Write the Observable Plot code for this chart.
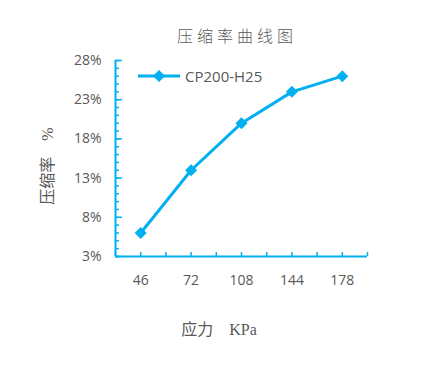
<!DOCTYPE html>
<html><head><meta charset="utf-8">
<script src="https://cdn.jsdelivr.net/npm/d3@7"></script>
<script src="https://cdn.jsdelivr.net/npm/@observablehq/plot@0.6"></script>
<style>
body{margin:0;background:#fff;}
#wrap{position:relative;width:447px;height:374px;overflow:hidden;background:#fff;}
#wrap svg{position:absolute;left:0;top:0;}
.t{position:absolute;color:#595959;white-space:nowrap;font-family:'Liberation Serif','Noto Sans CJK SC',serif;font-size:16px;line-height:1;}
</style></head><body><div id="wrap"></div>
<script>
const categories = ["46", "72", "108", "144", "178"];
const values = [6, 14, 20, 24, 26];
const yTicks = [3, 8, 13, 18, 23, 28];
const yMinorTicks = d3.range(3, 29, 1);
const seriesName = "CP200-H25";
const titleText = "压缩率曲线图";
const xTitleText = "应力 KPa";
const yTitleText = "压缩率 %";

const data = categories.map((c, i) => ({i, c, v: values[i]}));
const blue = "#00B0F0";
const W = 447, H = 374, mL = 115, mR = 80, mT = 60, mB = 118;
const frameW = W - mL - mR, frameH = H - mT - mB;
const xTickPos = d3.range(-0.5, categories.length, 0.5);

const chart = Plot.plot({
  width: W, height: H,
  marginLeft: mL, marginRight: mR, marginTop: mT, marginBottom: mB,
  style: {fontFamily: "'Open Sans'", fontSize: "14px", color: "#595959", background: "transparent"},
  x: {type: "linear", domain: [-0.5, categories.length - 0.5]},
  y: {domain: [3, 28]},
  marks: [
    Plot.axisX(d3.range(categories.length), {tickSize: 0, tickPadding: 19, tickFormat: i => categories[i], label: null, fontSize: 14}),
    Plot.axisY(yTicks, {tickSize: 0, tickPadding: 14, tickFormat: d => d + "%", label: null, fontSize: 14}),
    Plot.tickY(yMinorTicks, {y: d => d, stroke: blue, strokeWidth: 1.5, insetRight: frameW - 4}),
    Plot.tickY(yTicks, {y: d => d, stroke: blue, strokeWidth: 1.5, insetRight: frameW - 7}),
    Plot.tickX(xTickPos, {x: d => d, stroke: blue, strokeWidth: 1.5, insetTop: frameH - 4}),
    Plot.ruleY([3], {stroke: blue, strokeWidth: 2}),
    Plot.ruleX([-0.5], {stroke: blue, strokeWidth: 2}),
    Plot.line(data, {x: "i", y: "v", stroke: blue, strokeWidth: 3}),
    Plot.dot(data, {x: "i", y: "v", symbol: "diamond2", r: 5.4, fill: blue, stroke: "none"})
  ]
});
const wrap = document.getElementById("wrap");
wrap.appendChild(chart);

// legend
const leg = d3.select(wrap).append("svg").attr("width", 160).attr("height", 24)
  .style("left", "132px").style("top", "64px");
leg.append("line").attr("x1", 6).attr("x2", 48).attr("y1", 12).attr("y2", 12)
  .attr("stroke", blue).attr("stroke-width", 3);
leg.append("path").attr("d", d3.symbol(d3.symbolDiamond2, 5.4 * 5.4 * Math.PI)())
  .attr("transform", "translate(27,12)").attr("fill", blue);
leg.append("text").attr("x", 53).attr("y", 17.5).text(seriesName)
  .attr("fill", "#595959").style("font-family", "'Open Sans'").style("font-size", "15px");

// titles
const title = document.createElement("div");
title.className = "t"; title.textContent = titleText;
Object.assign(title.style, {left: "177px", top: "29px", letterSpacing: "4px", fontWeight: "300"});
wrap.appendChild(title);

const xt = document.createElement("div");
xt.className = "t"; xt.textContent = xTitleText;
Object.assign(xt.style, {left: "219px", top: "330px", transform: "translate(-50%,-50%)", wordSpacing: "12px"});
wrap.appendChild(xt);

const yt = document.createElement("div");
yt.className = "t"; yt.textContent = yTitleText;
Object.assign(yt.style, {left: "48px", top: "166px", transform: "translate(-50%,-50%) rotate(-90deg)", wordSpacing: "12px"});
wrap.appendChild(yt);
</script>
</body></html>
